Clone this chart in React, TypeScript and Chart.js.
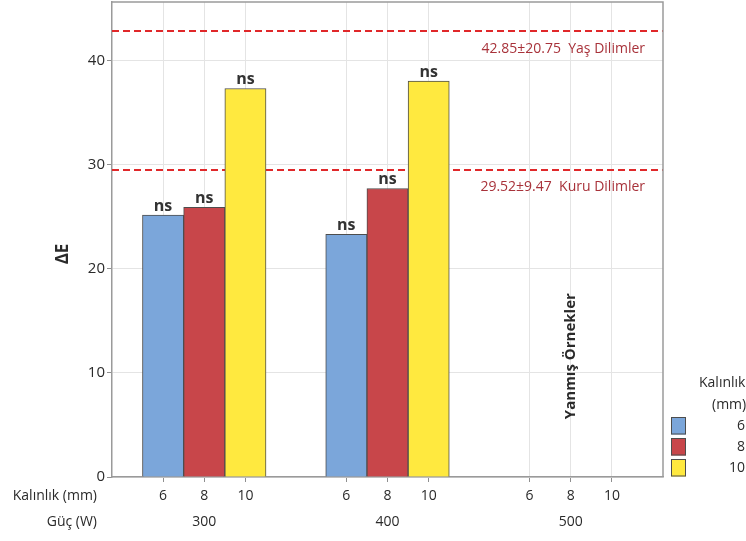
import React, { useEffect, useRef } from "react";
import { Chart, registerables } from "chart.js";

Chart.register(...registerables);

// Power levels (W) and slice thicknesses (mm)
const POWER_LABELS = ["300", "400", "500"];
const THICKNESS_LABELS = ["6", "8", "10"];

// ΔE for each thickness, one value per power level (500 W samples burned)
const DE_6MM: (number | null)[] = [25.15, 23.3, null];
const DE_8MM: (number | null)[] = [25.9, 27.7, null];
const DE_10MM: (number | null)[] = [37.3, 38.0, null];

// Significance marks above each bar
const SIG_6MM = ["ns", "ns", null];
const SIG_8MM = ["ns", "ns", null];
const SIG_10MM = ["ns", "ns", null];

// Reference ΔE levels (mean ± sd) for fresh and dried slices
const REF_VALUES = [42.85, 29.52];
const REF_LABELS = ["42.85±20.75  Yaş Dilimler", "29.52±9.47  Kuru Dilimler"];

const Y_TICKS = [0, 10, 20, 30, 40];
const Y_MAX = 45.6;

const BURNED_LABEL = "Yanmış Örnekler";
const ROW_TITLES = ["Kalınlık (mm)", "Güç (W)"];
const LEGEND_TITLE = ["Kalınlık", "(mm)"];
const AXIS_TITLE = "ΔE";

const COLORS = ["#7BA6DA", "#C8464A", "#FFE93F"];
const FONT = "'Open Sans', 'Noto Sans', sans-serif";
const TEXT = "#2a2a2a";

// x layout: bars one unit wide, groups separated by GROUP_GAP units
const GROUP_GAP = 4.45;
const EDGE = 1.24;
const xPos = (g: number, k: number) => g * GROUP_GAP + k;
const TICK_POS: number[] = [];
POWER_LABELS.forEach((_, g) => THICKNESS_LABELS.forEach((_, k) => TICK_POS.push(xPos(g, k))));

const TICK_LEN = 5;
const TICK_PAD = 1;
const TICK_LINE = 26;

const overlay = {
  id: "overlay",
  beforeDatasetsDraw(chart: any) {
    const { ctx, chartArea: a, scales } = chart;
    const y = scales.y;
    ctx.save();
    ctx.strokeStyle = "#E0282A";
    ctx.lineWidth = 2;
    ctx.setLineDash([7, 4]);
    REF_VALUES.forEach((v) => {
      const py = Math.round(y.getPixelForValue(v));
      ctx.beginPath();
      ctx.moveTo(a.left, py);
      ctx.lineTo(a.right, py);
      ctx.stroke();
    });
    ctx.setLineDash([]);
    ctx.fillStyle = "#A8323A";
    ctx.font = `14px ${FONT}`;
    ctx.textAlign = "right";
    ctx.textBaseline = "middle";
    REF_LABELS.forEach((t, i) => {
      ctx.fillText(t, a.right - 18, y.getPixelForValue(REF_VALUES[i]) + 18);
    });
    ctx.restore();
  },
  afterDatasetsDraw(chart: any) {
    const { ctx, chartArea: a, scales } = chart;
    const x = scales.x;
    const y = scales.y;
    const sig = [SIG_6MM, SIG_8MM, SIG_10MM];
    ctx.save();

    // significance marks
    ctx.fillStyle = "#333333";
    ctx.font = `bold 16px ${FONT}`;
    ctx.textAlign = "center";
    ctx.textBaseline = "alphabetic";
    chart.data.datasets.forEach((_: any, di: number) => {
      const meta = chart.getDatasetMeta(di);
      meta.data.forEach((bar: any, i: number) => {
        const t = sig[di][i];
        if (!t) return;
        ctx.fillText(t, bar.x, bar.y - 4);
      });
    });

    // top and right frame
    ctx.strokeStyle = "#9a9a9a";
    ctx.lineWidth = 1.5;
    ctx.beginPath();
    ctx.moveTo(a.left, a.top);
    ctx.lineTo(a.right, a.top);
    ctx.lineTo(a.right, a.bottom);
    ctx.stroke();

    // burned samples note at 500 W
    ctx.fillStyle = TEXT;
    ctx.font = `bold 15px ${FONT}`;
    ctx.translate(x.getPixelForValue(xPos(2, 1)), y.getPixelForValue(11.6));
    ctx.rotate(-Math.PI / 2);
    ctx.textAlign = "center";
    ctx.textBaseline = "middle";
    ctx.fillText(BURNED_LABEL, 0, 0);
    ctx.setTransform(1, 0, 0, 1, 0, 0);

    // y axis title
    ctx.font = `bold 17px ${FONT}`;
    ctx.translate(63, 254);
    ctx.rotate(-Math.PI / 2);
    ctx.fillText(AXIS_TITLE, 0, 0);
    ctx.setTransform(1, 0, 0, 1, 0, 0);

    // row titles for the two x label rows
    ctx.font = `14px ${FONT}`;
    ctx.textAlign = "right";
    ROW_TITLES.forEach((t, r) => {
      ctx.fillText(t, a.left - 15, a.bottom + TICK_LEN + TICK_PAD + TICK_LINE / 2 + r * TICK_LINE);
    });

    // legend
    ctx.textAlign = "left";
    ctx.fillText(LEGEND_TITLE[0], a.right + 36, a.bottom - 94);
    ctx.fillText(LEGEND_TITLE[1], a.right + 49, a.bottom - 72);
    chart.data.datasets.forEach((ds: any, di: number) => {
      const top = a.bottom - 60 + di * 21;
      ctx.fillStyle = ds.backgroundColor;
      ctx.fillRect(a.right + 8, top, 15, 17.5);
      ctx.strokeStyle = "#4d4d4d";
      ctx.lineWidth = 1;
      ctx.strokeRect(a.right + 8.5, top + 0.5, 14, 16.5);
      ctx.fillStyle = TEXT;
      ctx.textAlign = "right";
      ctx.fillText(ds.label, a.right + 82, top + 9);
    });

    ctx.restore();
  },
};

export default function App() {
  const ref = useRef<HTMLCanvasElement>(null);

  useEffect(() => {
    if (!ref.current) return;
    const series = [DE_6MM, DE_8MM, DE_10MM];
    const chart = new Chart(ref.current, {
      type: "bar",
      data: {
        datasets: series.map((vals, k) => ({
          label: THICKNESS_LABELS[k],
          data: vals.map((v, g) => ({ x: xPos(g, k), y: v })),
          backgroundColor: COLORS[k],
          borderColor: "#4d4d4d",
          borderWidth: 1,
          grouped: false,
          barPercentage: 1,
          categoryPercentage: 1,
        })) as any,
      },
      options: {
        responsive: false,
        animation: false,
        devicePixelRatio: 1,
        layout: { padding: { top: 2, right: 83, bottom: 0, left: 0 } },
        plugins: { legend: { display: false }, tooltip: { enabled: false } },
        scales: {
          x: {
            type: "linear",
            offset: false,
            min: -EDGE,
            max: xPos(2, 2) + EDGE,
            afterBuildTicks: (s: any) => {
              s.ticks = TICK_POS.map((v) => ({ value: v }));
            },
            afterFit: (s: any) => {
              s.height = 64;
              s.paddingLeft = 0;
              s.paddingRight = 0;
            },
            grid: { offset: false, color: "#e4e4e4", lineWidth: 1, tickLength: TICK_LEN, tickColor: "#8f8f8f" },
            border: { color: "#9a9a9a", width: 1.5 },
            ticks: {
              autoSkip: false,
              maxRotation: 0,
              padding: TICK_PAD,
              color: TEXT,
              font: { family: FONT, size: 14, lineHeight: TICK_LINE / 14 },
              callback: (_v: any, i: number) => {
                const k = i % 3;
                const g = Math.floor(i / 3);
                return k === 1 ? [THICKNESS_LABELS[k], POWER_LABELS[g]] : THICKNESS_LABELS[k];
              },
            },
          },
          y: {
            min: 0,
            max: Y_MAX,
            afterBuildTicks: (s: any) => {
              s.ticks = Y_TICKS.map((v) => ({ value: v }));
            },
            afterFit: (s: any) => {
              s.width = 112;
              s.paddingTop = 0;
              s.paddingBottom = 0;
            },
            grid: { color: "#e4e4e4", lineWidth: 1, tickLength: 5, tickColor: "#8f8f8f" },
            border: { color: "#9a9a9a", width: 1.5 },
            ticks: { padding: 2, color: TEXT, font: { family: FONT, size: 15 } },
          },
        },
      },
      plugins: [overlay],
    });
    return () => chart.destroy();
  }, []);

  return (
    <div style={{ position: "fixed", left: 0, top: 0, width: 746, height: 541, background: "#fff" }}>
      <canvas ref={ref} width={746} height={541} />
    </div>
  );
}
